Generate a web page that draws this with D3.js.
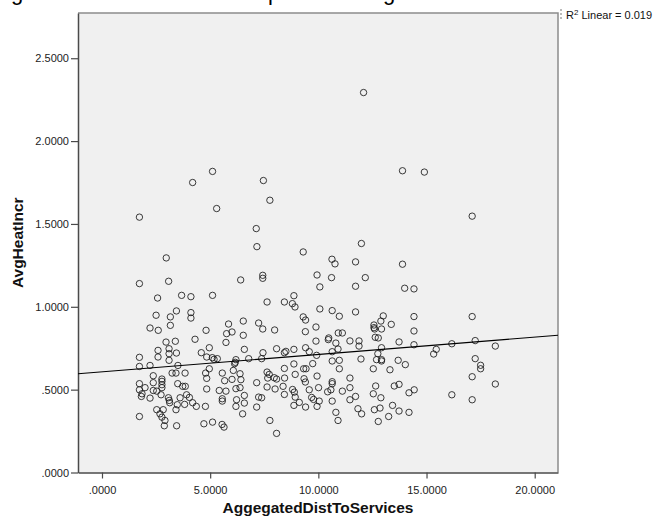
<!DOCTYPE html>
<html>
<head>
<meta charset="utf-8">
<script src="https://cdn.jsdelivr.net/npm/d3@7"></script>
<style>
  body { margin: 0; background: #fff; }
  svg { display: block; }
  text { font-family: Arial, "Liberation Sans", sans-serif; }
</style>
</head>
<body>
<svg id="chart" width="655" height="522"></svg>
<script>
// Aggregated distance to services (x) for each case
const distToServices = [
  5.11, 4.19, 7.46, 7.76, 5.30, 1.73, 7.13, 7.16, 9.30, 11.99,
  2.97, 10.63, 10.77, 11.72, 1.73, 3.08, 6.41, 7.43, 7.43, 9.94,
  10.61, 12.17, 10.07, 11.72, 2.57, 3.68, 4.11, 5.11, 8.87, 8.43,
  8.80, 8.92, 7.63, 10.07, 10.64, 10.97, 11.72, 2.50, 3.44, 3.16,
  4.11, 4.11, 9.30, 9.41, 2.22, 2.60, 3.16, 4.81, 5.85, 6.53,
  7.24, 7.43, 7.98, 5.76, 6.01, 6.53, 9.40, 9.89, 10.92, 11.11,
  2.96, 3.39, 4.30, 1.73, 2.22, 2.59, 2.59, 3.10, 3.10, 3.10,
  3.44, 3.51, 4.59, 4.96, 5.10, 5.33, 5.73, 6.19, 6.13, 6.58,
  6.78, 7.38, 7.44, 8.07, 8.43, 8.50, 8.87, 9.41, 9.58, 9.92,
  10.46, 10.48, 10.81, 10.91, 10.64, 11.46, 11.88, 11.88, 11.97, 5.18,
  4.84, 9.89, 1.73, 2.37, 2.77, 2.77, 2.37, 3.24, 3.42, 3.84,
  3.50, 4.79, 4.84, 4.96, 5.56, 5.67, 6.01, 6.07, 6.16, 6.38,
  6.42, 7.15, 7.63, 7.73, 7.66, 7.96, 8.07, 8.43, 8.44, 8.87,
  8.93, 9.32, 9.43, 9.34, 9.40, 9.74, 9.94, 10.64, 10.97, 10.97,
  10.64, 10.64, 11.46, 1.73, 1.73, 1.85, 1.82, 1.99, 2.22, 2.37,
  2.53, 2.73, 2.77, 2.77, 3.07, 3.11, 3.13, 3.48, 3.73, 3.85,
  3.91, 4.04, 3.61, 4.19, 4.36, 3.82, 2.53, 2.68, 2.83, 2.77,
  2.91, 2.88, 3.42, 3.45, 1.73, 4.84, 5.42, 5.73, 5.56, 5.56,
  4.71, 5.11, 5.55, 5.64, 4.78, 6.19, 6.38, 6.22, 6.19, 6.58,
  6.58, 6.50, 7.15, 7.24, 7.38, 7.63, 8.00, 8.37, 8.43, 8.81,
  8.89, 8.93, 8.87, 9.12, 9.41, 9.58, 9.69, 9.78, 10.04, 9.94,
  10.01, 10.43, 10.64, 10.58, 10.81, 10.91, 11.11, 11.46, 11.46, 11.72,
  11.83, 12.00, 7.76, 8.07,
  13.89, 14.90, 17.11, 13.89, 13.99, 14.42, 14.42, 17.11, 13.00, 12.89,
  13.37, 12.92, 14.42, 13.73, 14.42, 12.92, 15.45, 15.33, 16.17, 17.25,
  18.18, 12.75, 12.69, 12.92, 12.92, 13.69, 14.02, 13.31, 17.25, 17.50,
  17.50, 17.11, 18.18, 13.51, 13.73, 12.89, 14.43, 14.19, 16.17, 17.11,
  12.85, 13.43, 13.73, 14.19, 13.25, 12.77,
  12.57, 12.57, 12.60, 12.63, 12.77, 12.54, 12.65, 12.54, 12.59,
  12.09
];

// Average heat increase (y) for each case, same order
const avgHeatIncr = [
  1.817, 1.750, 1.762, 1.643, 1.593, 1.541, 1.472, 1.363, 1.331, 1.382,
  1.295, 1.287, 1.259, 1.271, 1.140, 1.154, 1.162, 1.190, 1.172, 1.192,
  1.176, 1.176, 1.120, 1.124, 1.053, 1.069, 1.061, 1.069, 1.067, 1.029,
  1.019, 0.999, 1.029, 0.987, 0.977, 0.943, 0.969, 0.949, 0.975, 0.939,
  0.965, 0.932, 0.939, 0.920, 0.872, 0.858, 0.888, 0.858, 0.896, 0.914,
  0.902, 0.866, 0.860, 0.838, 0.848, 0.828, 0.850, 0.878, 0.842, 0.842,
  0.787, 0.792, 0.804, 0.695, 0.646, 0.737, 0.697, 0.747, 0.717, 0.677,
  0.721, 0.646, 0.723, 0.753, 0.693, 0.687, 0.785, 0.681, 0.657, 0.743,
  0.687, 0.687, 0.723, 0.747, 0.723, 0.731, 0.743, 0.753, 0.729, 0.707,
  0.802, 0.812, 0.781, 0.745, 0.729, 0.794, 0.794, 0.763, 0.685, 0.683,
  0.697, 0.793, 0.640, 0.584, 0.564, 0.550, 0.542, 0.600, 0.600, 0.600,
  0.536, 0.600, 0.568, 0.626, 0.600, 0.554, 0.562, 0.616, 0.665, 0.596,
  0.560, 0.542, 0.606, 0.592, 0.570, 0.572, 0.564, 0.628, 0.570, 0.655,
  0.592, 0.626, 0.626, 0.566, 0.546, 0.657, 0.582, 0.673, 0.677, 0.626,
  0.548, 0.536, 0.570, 0.536, 0.499, 0.475, 0.459, 0.512, 0.449, 0.495,
  0.491, 0.469, 0.530, 0.512, 0.451, 0.435, 0.421, 0.409, 0.520, 0.520,
  0.469, 0.453, 0.451, 0.421, 0.399, 0.411, 0.379, 0.354, 0.379, 0.334,
  0.314, 0.282, 0.379, 0.282, 0.338, 0.504, 0.495, 0.491, 0.445, 0.431,
  0.294, 0.304, 0.290, 0.274, 0.399, 0.506, 0.512, 0.439, 0.399, 0.465,
  0.419, 0.354, 0.395, 0.455, 0.451, 0.516, 0.504, 0.520, 0.471, 0.501,
  0.485, 0.455, 0.405, 0.423, 0.395, 0.499, 0.453, 0.441, 0.431, 0.399,
  0.512, 0.487, 0.431, 0.499, 0.363, 0.314, 0.491, 0.512, 0.439, 0.459,
  0.385, 0.354, 0.314, 0.236,
  1.821, 1.813, 1.547, 1.257, 1.112, 1.108, 0.941, 0.941, 0.945, 0.914,
  0.894, 0.866, 0.854, 0.788, 0.771, 0.753, 0.743, 0.715, 0.777, 0.796,
  0.763, 0.717, 0.681, 0.681, 0.673, 0.677, 0.651, 0.620, 0.687, 0.647,
  0.626, 0.578, 0.534, 0.522, 0.532, 0.451, 0.499, 0.481, 0.469, 0.439,
  0.389, 0.405, 0.371, 0.363, 0.338, 0.308,
  0.890, 0.874, 0.866, 0.816, 0.812, 0.626, 0.522, 0.475, 0.379,
  2.293
];

const xTicks = [0, 5, 10, 15, 20];
const yTicks = [0, 0.5, 1.0, 1.5, 2.0, 2.5];

// Linear fit reported for the scatter
const fitIntercept = 0.6076;
const fitSlope = 0.01046;
const rSquaredText = "0.019";

const svg = d3.select("#chart");

const plot = { left: 78, right: 558, top: 13, bottom: 472.5 };

const x = d3.scaleLinear().domain([-1.109, 21.077]).range([plot.left, plot.right]);
const y = d3.scaleLinear().domain([0, 2.773]).range([plot.bottom, plot.top]);

const fmt = v => d3.format(".4f")(v).replace(/^0\./, ".");

// Cut-off heading glyphs along the top edge
const headFrags = [{ t: "g", x: 11 }, { t: "p", x: 268 }, { t: "g", x: 383 }];
svg.append("g").selectAll("text").data(headFrags).join("text")
  .attr("x", d => d.x).attr("y", 0)
  .attr("font-size", 22).attr("fill", "#000")
  .text(d => d.t);

// Plot background
svg.append("rect")
  .attr("x", plot.left).attr("y", plot.top)
  .attr("width", plot.right - plot.left).attr("height", plot.bottom - plot.top)
  .attr("fill", "#f0f0f0");

// Top and right border
svg.append("path")
  .attr("d", `M${plot.left},${plot.top}H${plot.right}V${plot.bottom}`)
  .attr("fill", "none").attr("stroke", "#8c8c8c").attr("stroke-width", 1.5);

// Axes
const yAxis = svg.append("g")
  .attr("transform", `translate(${plot.left},0)`)
  .call(d3.axisLeft(y).tickValues(yTicks).tickFormat(fmt).tickSize(7).tickSizeOuter(0).tickPadding(2));

const xAxis = svg.append("g")
  .attr("transform", `translate(0,${plot.bottom})`)
  .call(d3.axisBottom(x).tickValues(xTicks).tickFormat(fmt).tickSize(6).tickSizeOuter(0).tickPadding(8));

[yAxis, xAxis].forEach(a => {
  a.select(".domain").attr("stroke", "#4a4a4a").attr("stroke-width", 1.5);
  a.selectAll(".tick line").attr("stroke", "#4a4a4a").attr("stroke-width", 1.2);
  a.selectAll(".tick text")
    .attr("font-family", "Arial, 'Liberation Sans', sans-serif")
    .attr("font-size", 11).attr("fill", "#222");
});

// Scatter points
const points = distToServices.map((d, i) => ({ x: d, y: avgHeatIncr[i] }));
svg.append("g").selectAll("circle").data(points).join("circle")
  .attr("cx", d => x(d.x)).attr("cy", d => y(d.y))
  .attr("r", 3.2)
  .attr("fill", "none")
  .attr("stroke", "#1a1a1a").attr("stroke-opacity", 0.85).attr("stroke-width", 1);

// Fit line across the full x range
const [x0, x1] = x.domain();
svg.append("line")
  .attr("x1", x(x0)).attr("y1", y(fitIntercept + fitSlope * x0))
  .attr("x2", x(x1)).attr("y2", y(fitIntercept + fitSlope * x1))
  .attr("stroke", "#000").attr("stroke-width", 1.1);

// Axis titles
svg.append("text")
  .attr("x", (plot.left + plot.right) / 2).attr("y", 513)
  .attr("text-anchor", "middle").attr("font-size", 15.5).attr("font-weight", "bold")
  .attr("fill", "#111")
  .text("AggegatedDistToServices");

svg.append("text")
  .attr("transform", `translate(23,${(plot.top + plot.bottom) / 2}) rotate(-90)`)
  .attr("text-anchor", "middle").attr("font-size", 15.5).attr("font-weight", "bold")
  .attr("fill", "#111")
  .text("AvgHeatIncr");

// Fit legend
svg.append("line")
  .attr("x1", 561).attr("x2", 561).attr("y1", 9).attr("y2", 20)
  .attr("stroke", "#777").attr("stroke-dasharray", "2,2");
const leg = svg.append("text").attr("x", 566).attr("y", 19).attr("font-size", 11).attr("fill", "#111");
leg.append("tspan").text("R");
leg.append("tspan").attr("dy", -4).attr("font-size", 8).text("2");
leg.append("tspan").attr("dy", 4).text(" Linear = " + rSquaredText);
</script>
</body>
</html>
